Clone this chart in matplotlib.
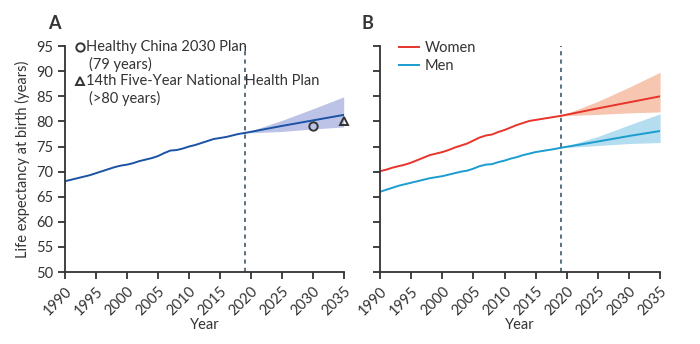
import matplotlib.pyplot as plt
import numpy as np

plt.rcParams["font.family"] = ["Lato", "DejaVu Sans"]

# observed years and estimates
years = np.arange(1990, 2020)
both = [68.1, 68.4, 68.7, 69.0, 69.3, 69.7, 70.1, 70.5, 70.9, 71.2,
        71.4, 71.7, 72.1, 72.4, 72.7, 73.1, 73.7, 74.2, 74.3, 74.6,
        75.0, 75.3, 75.7, 76.1, 76.5, 76.7, 76.9, 77.2, 77.5, 77.7]
women = [70.1, 70.4, 70.8, 71.1, 71.4, 71.8, 72.3, 72.8, 73.3, 73.6,
         73.9, 74.3, 74.8, 75.2, 75.6, 76.2, 76.8, 77.2, 77.4, 77.9,
         78.3, 78.8, 79.3, 79.7, 80.1, 80.3, 80.5, 80.7, 80.9, 81.1]
men = [66.0, 66.4, 66.8, 67.2, 67.5, 67.8, 68.1, 68.4, 68.7, 68.9,
       69.1, 69.4, 69.7, 70.0, 70.2, 70.6, 71.1, 71.4, 71.5, 71.9,
       72.2, 72.6, 72.9, 73.3, 73.6, 73.9, 74.1, 74.3, 74.5, 74.75]

# projections to 2035
proj_years = [2019, 2025, 2030, 2035]
both_proj = [77.7, 79.1, 80.2, 81.3]
both_lo = [77.7, 78.0, 78.5, 78.9]
both_hi = [77.7, 80.2, 82.5, 84.9]
women_proj = [81.1, 82.6, 83.8, 85.0]
women_lo = [81.1, 81.4, 81.7, 81.9]
women_hi = [81.1, 84.0, 86.8, 89.8]
men_proj = [74.75, 76.0, 77.1, 78.1]
men_lo = [74.75, 75.2, 75.6, 75.8]
men_hi = [74.75, 77.0, 79.3, 81.5]

targets_x = [2030, 2035]
targets_y = [79, 80]

xticks = list(range(1990, 2036, 5))
yticks = list(range(50, 96, 5))

fig = plt.figure(figsize=(7, 3.44), dpi=100)
axA = fig.add_axes([0.093, 0.209, 0.398, 0.657])
axB = fig.add_axes([0.543, 0.209, 0.400, 0.657])

dark = "#333333"
for ax in (axA, axB):
    ax.set_xlim(1990, 2035)
    ax.set_ylim(50, 95)
    ax.set_xticks(xticks)
    ax.set_yticks(yticks)
    ax.set_xticklabels([str(x) for x in xticks], rotation=45, ha="right",
                       rotation_mode="anchor", fontsize=10.5, color=dark)
    ax.spines["top"].set_visible(False)
    ax.spines["right"].set_visible(False)
    for s in ("left", "bottom"):
        ax.spines[s].set_color(dark)
        ax.spines[s].set_linewidth(1.3)
    ax.tick_params(direction="out", length=5, width=1.3, color=dark,
                   labelsize=10.5, labelcolor=dark)
    ax.set_xlabel("Year", fontsize=10.5, color=dark, labelpad=0)
    ax.axvline(2019, color="#3d5a6b", linestyle=(0, (2.5, 2.5)), linewidth=1.2)

# panel A
axA.fill_between(proj_years, both_lo, both_hi, color="#bcc3e6", lw=0)
axA.plot(years, both, color="#1a53a3", lw=1.4)
axA.plot(proj_years, both_proj, color="#1a53a3", lw=1.4)
axA.plot(targets_x[0], targets_y[0], "o", mfc="none", mec=dark, ms=6, mew=1.4,
         clip_on=False)
axA.plot(targets_x[1], targets_y[1], "^", mfc="none", mec=dark, ms=6, mew=1.4,
         clip_on=False)
axA.set_ylabel("Life expectancy at birth (years)", fontsize=10.5, color=dark)

axA.plot(0.055, 0.995, "o", mfc="none", mec=dark, ms=6, mew=1.4,
         transform=axA.transAxes, clip_on=False)
axA.text(0.075, 0.995, "Healthy China 2030 Plan", transform=axA.transAxes,
         va="center", fontsize=10.5, color=dark)
axA.text(0.085, 0.92, "(79 years)", transform=axA.transAxes,
         va="center", fontsize=10.5, color=dark)
axA.plot(0.055, 0.845, "^", mfc="none", mec=dark, ms=6, mew=1.4,
         transform=axA.transAxes, clip_on=False)
axA.text(0.075, 0.845, "14th Five-Year National Health Plan",
         transform=axA.transAxes, va="center", fontsize=10.5, color=dark)
axA.text(0.085, 0.77, "(>80 years)", transform=axA.transAxes,
         va="center", fontsize=10.5, color=dark)

# panel B
axB.fill_between(proj_years, women_lo, women_hi, color="#f7c6b0", lw=0)
axB.fill_between(proj_years, men_lo, men_hi, color="#b5ddf0", lw=0)
axB.plot(years, women, color="#e8342a", lw=1.4, label="Women")
axB.plot(proj_years, women_proj, color="#e8342a", lw=1.4)
axB.plot(years, men, color="#1b9dd0", lw=1.4, label="Men")
axB.plot(proj_years, men_proj, color="#1b9dd0", lw=1.4)
axB.set_yticklabels([])
axB.legend(loc="upper left", bbox_to_anchor=(0.02, 1.08), frameon=False,
           fontsize=10.5, handlelength=1.4, handletextpad=0.4,
           labelspacing=0.25, labelcolor=dark)

fig.text(0.068, 0.915, "A", fontsize=13, fontweight="bold", color=dark)
fig.text(0.517, 0.915, "B", fontsize=13, fontweight="bold", color=dark)

fig.savefig("out.png", dpi=100)
